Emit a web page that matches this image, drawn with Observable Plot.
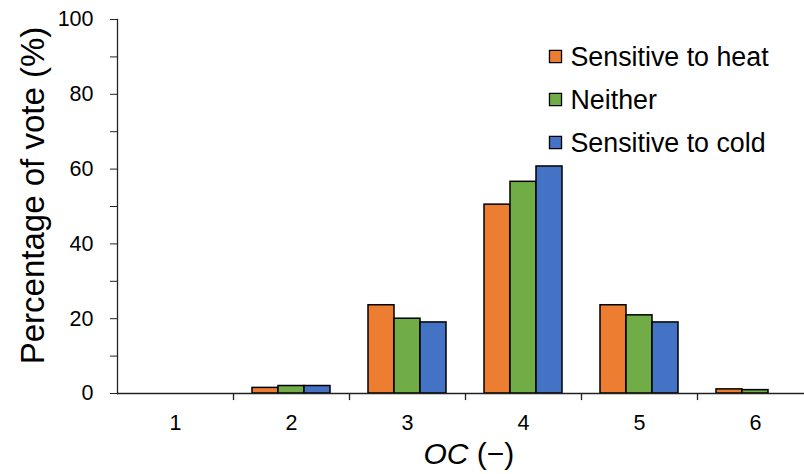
<!DOCTYPE html>
<html><head><meta charset="utf-8">
<script src="https://cdn.jsdelivr.net/npm/d3@7"></script>
<script src="https://cdn.jsdelivr.net/npm/@observablehq/plot@0.6"></script>
<style>body{margin:0;background:#fff;}</style>
</head><body><div id="chart"></div>
<script>
const categories = ["1", "2", "3", "4", "5", "6"];
const seriesNames = ["Sensitive to heat", "Neither", "Sensitive to cold"];
const heatValues = [0, 1.5, 23.6, 50.5, 23.6, 1.1];
const neitherValues = [0, 2.0, 20.0, 56.6, 20.9, 0.9];
const coldValues = [0, 2.0, 19.0, 60.7, 19.0, 0];
const seriesColors = ["#ED7D31", "#70AD47", "#4472C4"];
const yTicks = [0, 20, 40, 60, 80, 100];
const yMinorTicks = [10, 30, 50, 70, 90];
const yLabel = "Percentage of vote (%)";
const xLabelItalic = "OC";
const xLabelRest = " (\u2212)";

const seriesValues = [heatValues, neitherValues, coldValues];
const rows = seriesNames.map((s, si) => categories.map((c, ci) => ({category: c, series: s, value: seriesValues[si][ci]})).filter(d => d.value > 0));

const W = 804, H = 474, ML = 117, MT = 19, MB = 81;
const band = (813 - ML) / categories.length;
const barW = 26;
const axisColor = "#222";
const tickFont = 21.5;

const marks = [];
rows.forEach((data, si) => {
  marks.push(Plot.barY(data, {
    x: "category", y: "value",
    fill: seriesColors[si], stroke: "#000", strokeWidth: 1.5,
    insetLeft: (band - barW) / 2, insetRight: (band - barW) / 2,
    dx: (si - 1) * barW
  }));
});
marks.push(Plot.ruleX(categories.slice(0, -1), {x: d => d, y1: 0, y2: -1.9, dx: band / 2, stroke: axisColor, strokeWidth: 1.3}));
marks.push(Plot.frame({anchor: "left", stroke: axisColor, strokeWidth: 1.3}));
marks.push(Plot.frame({anchor: "bottom", stroke: axisColor, strokeWidth: 1.3}));
marks.push(Plot.axisY({ticks: yTicks.concat(yMinorTicks), tickSize: 7, tickFormat: () => "", label: null, stroke: axisColor}));
marks.push(Plot.text(yTicks, {y: d => d, text: d => String(d), frameAnchor: "left", textAnchor: "end", lineAnchor: "middle", dx: -24, fontSize: tickFont, fill: "#000"}));
marks.push(Plot.text(categories, {x: d => d, text: d => d, frameAnchor: "bottom", textAnchor: "middle", lineAnchor: "middle", dy: 30, fontSize: tickFont, fill: "#000"}));
marks.push(Plot.text([yLabel], {text: d => d, frameAnchor: "left", textAnchor: "middle", lineAnchor: "middle", rotate: -90, dx: -84, dy: -11, fontSize: 33, fill: "#000"}));
marks.push(Plot.text([xLabelItalic], {text: d => d, frameAnchor: "bottom", textAnchor: "end", lineAnchor: "middle", dx: 7.5, dy: 61, fontSize: 30, fontStyle: "italic", fill: "#000"}));
marks.push(Plot.text([xLabelRest], {text: d => d, frameAnchor: "bottom", textAnchor: "start", lineAnchor: "middle", dx: 7.5, dy: 61, fontSize: 30, fill: "#000"}));
seriesNames.forEach((s, si) => {
  marks.push(Plot.dot([s], {frameAnchor: "top-left", symbol: "square", r: 6.8, fill: seriesColors[si], stroke: "#000", strokeWidth: 1.3, dx: 555 - ML, dy: 56 - MT + si * 43}));
  marks.push(Plot.text([s], {text: d => d, frameAnchor: "top-left", textAnchor: "start", lineAnchor: "middle", fontSize: 26.8, fill: "#000", dx: 570 - ML, dy: 57 - MT + si * 43}));
});

const chart = Plot.plot({
  width: W, height: H,
  marginLeft: ML, marginRight: 0, marginTop: MT, marginBottom: MB,
  style: {fontFamily: "'Liberation Sans', Arial, sans-serif", color: "#000", background: "#fff"},
  x: {domain: categories, range: [ML, 813], padding: 0, axis: null},
  y: {domain: [0, 100], axis: null},
  marks
});
document.getElementById("chart").appendChild(chart);
</script>
</body></html>
